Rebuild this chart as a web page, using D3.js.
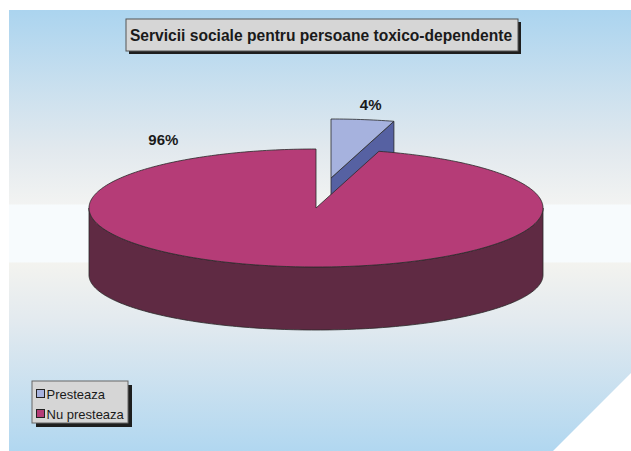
<!DOCTYPE html>
<html>
<head>
<meta charset="utf-8">
<script src="https://cdn.jsdelivr.net/npm/d3@7"></script>
<style>
  body { margin: 0; background: #fff; }
  svg { display: block; font-family: "Liberation Sans", Arial, sans-serif; }
</style>
</head>
<body>
<svg id="chart" width="631" height="451"></svg>
<script>
var title = "Servicii sociale pentru persoane toxico-dependente";
var categories = ["Presteaza", "Nu presteaza"];
var values = [4.47, 95.53];

var topColors = ["#a6b2de", "#b53c77"],
    sideColors = ["#5661a2", "#5f2a43"];

var svg = d3.select("#chart");

// background panel with the horizon gradient
var grad = svg.append("defs").append("linearGradient")
    .attr("id", "bg").attr("x1", 0).attr("y1", 0).attr("x2", 0).attr("y2", 1);
[[0, "#abd4ef"], [0.317, "#e2e9ee"], [0.44, "#f2f3f2"], [0.442, "#f7fbfd"],
 [0.571, "#f7fbfd"], [0.574, "#f3f3ef"], [0.703, "#e3eaef"], [1, "#b1d7f0"]]
    .forEach(function (s) {
        grad.append("stop").attr("offset", s[0]).attr("stop-color", s[1]);
    });

svg.append("path")
    .attr("d", "M9,10L631,10L631,373L553,451L9,451Z")
    .attr("fill", "url(#bg)");

// title box
svg.append("rect").attr("x", 129).attr("y", 22).attr("width", 392).attr("height", 32).attr("fill", "#1e1e1e");
svg.append("rect").attr("x", 126).attr("y", 19).attr("width", 392).attr("height", 32)
    .attr("fill", "#d6d6d6").attr("stroke", "#555").attr("stroke-width", 1);
svg.append("text")
    .attr("x", 321).attr("y", 41)
    .attr("text-anchor", "middle")
    .attr("font-size", "15.6px").attr("font-weight", "bold").attr("fill", "#1a1a1a")
    .text(title);

// 3D pie (the bottom rim is a little flatter, as in the perspective view)
var cx = 316, cy = 208, rx = 227, ry = 59, ryBottom = 55, depth = 67,
    explode = [15, -30];

var pie = d3.pie().sort(null).startAngle(0).endAngle(2 * Math.PI);
var arcs = pie(values);
var total = d3.sum(values);

function pt(a, r, dx, dy, dz) {
    var k = dz ? ryBottom : ry;
    return [cx + dx + rx * r * Math.sin(a), cy + dy - k * r * Math.cos(a) + dz];
}

function arcPoints(a0, a1, dx, dy, dz) {
    var n = Math.max(2, Math.ceil((a1 - a0) / 0.02)), pts = [];
    for (var i = 0; i <= n; i++) {
        pts.push(pt(a0 + (a1 - a0) * i / n, 1, dx, dy, dz));
    }
    return pts;
}

var line = d3.line();
var g = svg.append("g")
    .attr("stroke", "#2a2a2a").attr("stroke-width", 0.8).attr("stroke-linejoin", "round");

function drawSlice(d, i) {
    var off = i === 0 ? explode : [0, 0],
        dx = off[0], dy = off[1];

    // outer front side
    var s0 = Math.max(d.startAngle, Math.PI / 2), s1 = Math.min(d.endAngle, 3 * Math.PI / 2);
    if (s1 > s0) {
        var top = arcPoints(s0, s1, dx, dy, 0),
            bottom = arcPoints(s0, s1, dx, dy, depth).reverse();
        g.append("path").attr("d", line(top.concat(bottom)) + "Z").attr("fill", sideColors[i]);
    }

    // radial face at the end angle (faces the viewer for the small slice)
    if (i === 0) {
        var c = pt(0, 0, dx, dy, 0), e = pt(d.endAngle, 1, dx, dy, 0);
        g.append("path")
            .attr("d", line([c, e, [e[0], e[1] + depth], [c[0], c[1] + depth]]) + "Z")
            .attr("fill", sideColors[i]);
    }

    // top face
    var face = [pt(0, 0, dx, dy, 0)].concat(arcPoints(d.startAngle, d.endAngle, dx, dy, 0));
    g.append("path").attr("d", line(face) + "Z").attr("fill", topColors[i]);
}

arcs.forEach(drawSlice);

// percent labels
var labelAngles = [(arcs[0].startAngle + arcs[0].endAngle) / 2, 2 * Math.PI - 0.53],
    labelRadius = [1.25, 1.33];
arcs.forEach(function (d, i) {
    var off = i === 0 ? explode : [0, 0],
        p = pt(labelAngles[i], labelRadius[i], off[0], off[1], 0);
    svg.append("text")
        .attr("x", p[0]).attr("y", p[1] + 5)
        .attr("text-anchor", "middle")
        .attr("font-size", "15px").attr("font-weight", "bold").attr("fill", "#1a1a1a")
        .text(Math.round(d.value / total * 100) + "%");
});

// legend
var lx = 32, ly = 381, lw = 96, lh = 42;
svg.append("rect").attr("x", lx + 4).attr("y", ly + 4).attr("width", lw).attr("height", lh).attr("fill", "#1e1e1e");
svg.append("rect").attr("x", lx).attr("y", ly).attr("width", lw).attr("height", lh)
    .attr("fill", "#d6d6d6").attr("stroke", "#666").attr("stroke-width", 1);

var item = svg.selectAll(".legend-item")
    .data(categories)
    .enter()
    .append("g")
    .attr("class", "legend-item")
    .attr("transform", function (d, i) {
        return "translate(" + (lx + 4) + "," + (ly + 8 + i * 20) + ")";
    });

item.append("rect")
    .attr("x", 0.5).attr("y", 0.5).attr("width", 8).attr("height", 8)
    .attr("fill", function (d, i) { return topColors[i]; })
    .attr("stroke", "#222").attr("stroke-width", 1);

item.append("text")
    .attr("x", 10.5).attr("y", 9.5)
    .attr("font-size", "13px").attr("fill", "#1a1a1a")
    .text(function (d) { return d; });
</script>
</body>
</html>
